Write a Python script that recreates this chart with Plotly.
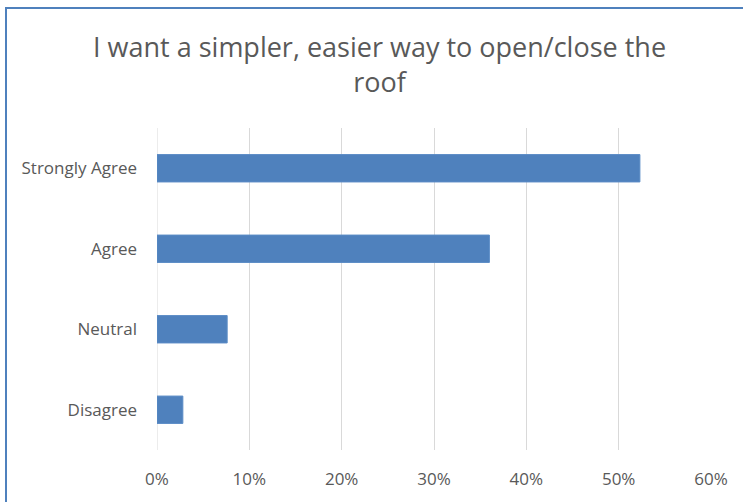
import plotly.graph_objects as go

categories = ["Strongly Agree", "Agree", "Neutral", "Disagree"]
values = [0.523, 0.36, 0.076, 0.028]
tick_vals = [0, 0.1, 0.2, 0.3, 0.4, 0.5, 0.6]
tick_text = ["0%", "10%", "20%", "30%", "40%", "50%", "60%"]
title_text = "I want a simpler, easier way to open/close the<br>roof"

W, H = 743, 502
L, R, T, B = 157, 32, 128, 48
pw, ph = W - L - R, H - T - B

fig = go.Figure(go.Bar(
    y=categories, x=values, orientation="h",
    marker=dict(color="#4F81BD", line=dict(color="#5B8CC6", width=1)),
))

def px_to_paper_x(px):
    return (px - L) / pw

def px_to_paper_y(py):
    return 1 + (T - py) / ph

fig.add_shape(type="rect", xref="paper", yref="paper",
              x0=px_to_paper_x(6), x1=px_to_paper_x(760),
              y0=px_to_paper_y(520), y1=px_to_paper_y(6.5),
              line=dict(color="#4F81BD", width=2), fillcolor="rgba(0,0,0,0)", layer="above")

fig.add_annotation(text=title_text, xref="paper", yref="paper",
                   x=px_to_paper_x(379), y=px_to_paper_y(63),
                   xanchor="center", yanchor="middle", showarrow=False,
                   font=dict(family="Open Sans, sans-serif", size=27, color="#595959"))

fig.update_layout(
    width=W, height=H,
    margin=dict(l=L, r=R, t=T, b=B),
    paper_bgcolor="white", plot_bgcolor="white",
    bargap=0.66,
    showlegend=False,
    font=dict(family="Open Sans, sans-serif", color="#595959"),
    xaxis=dict(range=[0, 0.6], tickvals=tick_vals, ticktext=tick_text,
               showgrid=True, gridcolor="#D9D9D9", gridwidth=1, zeroline=False,
               showline=False, ticks="", tickfont=dict(size=17, color="#595959"),
               ticklabelstandoff=17),
    yaxis=dict(categoryorder="array", categoryarray=categories[::-1],
               showgrid=False, zeroline=False, showline=False, ticks="",
               tickfont=dict(size=17, color="#595959"), ticklabelstandoff=19),
)
fig.add_vline(x=0, line=dict(color="#D9D9D9", width=1), layer="below")

fig.write_html("out.html")
